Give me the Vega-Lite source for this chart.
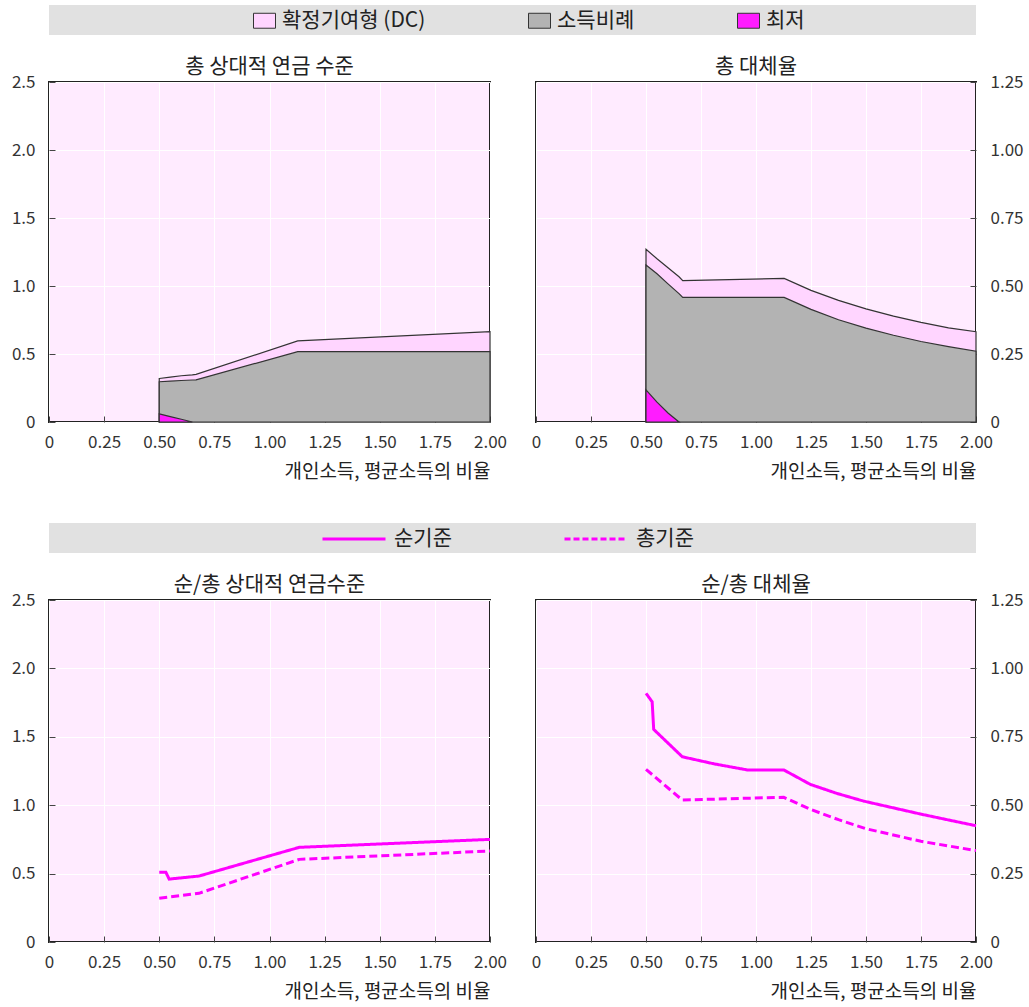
{
  "$schema": "https://vega.github.io/schema/vega-lite/v6.json",
  "padding": {"left": 5, "top": 5, "right": 5, "bottom": 5},
  "background": "#ffffff",
  "datasets": {
    "tl": [
      {"x": 0.5, "total": 0.32, "gray": 0.296, "min": 0.06},
      {"x": 0.55, "total": 0.33, "gray": 0.3, "min": 0.04},
      {"x": 0.6, "total": 0.34, "gray": 0.305, "min": 0.02},
      {"x": 0.65, "total": 0.347, "gray": 0.309, "min": 0},
      {"x": 0.667, "total": 0.35, "gray": 0.31},
      {"x": 1.128, "total": 0.596, "gray": 0.517},
      {"x": 2.0, "total": 0.664, "gray": 0.517}
    ],
    "tr": [
      {"x": 0.5, "total": 0.635, "gray": 0.577, "min": 0.118},
      {"x": 0.55, "total": 0.6, "gray": 0.545, "min": 0.073},
      {"x": 0.6, "total": 0.567, "gray": 0.508, "min": 0.033},
      {"x": 0.65, "total": 0.534, "gray": 0.472, "min": 0},
      {"x": 0.667, "total": 0.52, "gray": 0.458},
      {"x": 1.128, "total": 0.528, "gray": 0.458},
      {"x": 1.25, "total": 0.484, "gray": 0.414},
      {"x": 1.375, "total": 0.447, "gray": 0.376},
      {"x": 1.5, "total": 0.416, "gray": 0.345},
      {"x": 1.625, "total": 0.389, "gray": 0.319},
      {"x": 1.75, "total": 0.366, "gray": 0.296},
      {"x": 1.875, "total": 0.346, "gray": 0.277},
      {"x": 2.0, "total": 0.332, "gray": 0.26}
    ],
    "bl": [
      {"x": 0.5, "basis": "순기준", "value": 0.51},
      {"x": 0.53, "basis": "순기준", "value": 0.51},
      {"x": 0.545, "basis": "순기준", "value": 0.46},
      {"x": 0.68, "basis": "순기준", "value": 0.482},
      {"x": 1.135, "basis": "순기준", "value": 0.692},
      {"x": 2.0, "basis": "순기준", "value": 0.75},
      {"x": 0.5, "basis": "총기준", "value": 0.32},
      {"x": 0.68, "basis": "총기준", "value": 0.356},
      {"x": 1.135, "basis": "총기준", "value": 0.604},
      {"x": 2.0, "basis": "총기준", "value": 0.665}
    ],
    "br": [
      {"x": 0.5, "basis": "순기준", "value": 0.909},
      {"x": 0.528, "basis": "순기준", "value": 0.878},
      {"x": 0.535, "basis": "순기준", "value": 0.777},
      {"x": 0.665, "basis": "순기준", "value": 0.677},
      {"x": 0.81, "basis": "순기준", "value": 0.651},
      {"x": 0.96, "basis": "순기준", "value": 0.629},
      {"x": 1.126, "basis": "순기준", "value": 0.629},
      {"x": 1.247, "basis": "순기준", "value": 0.576},
      {"x": 1.368, "basis": "순기준", "value": 0.543},
      {"x": 1.489, "basis": "순기준", "value": 0.515},
      {"x": 1.746, "basis": "순기준", "value": 0.468},
      {"x": 1.875, "basis": "순기준", "value": 0.446},
      {"x": 2.0, "basis": "순기준", "value": 0.425},
      {"x": 0.5, "basis": "총기준", "value": 0.631},
      {"x": 0.665, "basis": "총기준", "value": 0.519},
      {"x": 1.126, "basis": "총기준", "value": 0.529},
      {"x": 1.25, "basis": "총기준", "value": 0.484},
      {"x": 1.375, "basis": "총기준", "value": 0.447},
      {"x": 1.5, "basis": "총기준", "value": 0.414},
      {"x": 1.75, "basis": "총기준", "value": 0.368},
      {"x": 2.0, "basis": "총기준", "value": 0.334}
    ]
  },
  "spacing": 41,
  "resolve": {"scale": {"x": "independent", "y": "independent", "color": "independent", "strokeDash": "independent"}, "legend": {"color": "independent", "strokeDash": "independent"}},
  "vconcat": [
    {
      "spacing": 20,
      "resolve": {"scale": {"x": "independent", "y": "independent", "color": "independent", "strokeDash": "independent"}, "legend": {"color": "independent", "strokeDash": "independent"}},
      "vconcat": [
        {
          "width": 927,
          "height": 30,
          "view": {"fill": "#e1e1e1", "stroke": null},
          "data": {"values": [{"item": "확정기여형 (DC)"}, {"item": "소득비례"}, {"item": "최저"}]},
          "mark": {"type": "point", "filled": true, "opacity": 0},
          "encoding": {
            "y": {"datum": 0.5, "type": "quantitative", "scale": {"domain": [0, 1]},
              "axis": {"values": [0.5], "labelExpr": "'2.5'", "labelOpacity": 0, "ticks": false, "grid": false, "title": null}},
            "color": {
              "field": "item",
              "type": "nominal",
              "scale": {"domain": ["확정기여형 (DC)", "소득비례", "최저"], "range": ["#ffd5ff", "#b3b3b3", "#ff1cff"]},
              "legend": {
                "orient": "none",
                "legendX": 204,
                "legendY": 4,
                "direction": "horizontal",
                "title": null,
                "symbolType": "M-1,-0.68H1V0.68H-1Z",
                "symbolSize": 484,
                "symbolOpacity": 1,
                "symbolStrokeColor": "#333333",
                "symbolStrokeWidth": 1,
                "labelFontSize": 21,
                "labelColor": "#222222",
                "labelOffset": 6,
                "columnPadding": 100,
                "padding": 0
              }
            }
          }
        },
        {
          "bounds": "flush",
          "spacing": 46,
          "resolve": {"scale": {"x": "independent", "y": "independent"}},
          "hconcat": [
            {
              "width": 441,
              "height": 340,
              "title": {"text": "총 상대적 연금 수준"},
              "view": {"fill": "#ffebff", "stroke": "#222222", "strokeWidth": 2},
              "data": {"name": "tl"},
              "encoding": {
                "x": {
                  "field": "x", "type": "quantitative",
                  "scale": {"domain": [0, 2], "nice": false},
                  "axis": {"values": [0, 0.25, 0.5, 0.75, 1, 1.25, 1.5, 1.75, 2], "labelExpr": "datum.value === 0 ? '0' : format(datum.value, '.2f')", "title": "개인소득, 평균소득의 비율"}
                }
              },
              "layer": [
                {"mark": {"type": "area", "fill": "#ffd5ff", "stroke": "#333333", "strokeWidth": 1.2},
                 "encoding": {"y": {"field": "total", "type": "quantitative", "title": null, "scale": {"domain": [0, 2.5], "nice": false},
                   "axis": {"values": [0, 0.5, 1, 1.5, 2, 2.5], "labelExpr": "datum.value === 0 ? '0' : format(datum.value, '.1f')"}}}},
                {"mark": {"type": "area", "fill": "#b3b3b3", "stroke": "#333333", "strokeWidth": 1.2},
                 "encoding": {"y": {"field": "gray", "type": "quantitative", "title": null,
                   "axis": {"values": [0, 0.5, 1, 1.5, 2, 2.5], "labelExpr": "datum.value === 0 ? '0' : format(datum.value, '.1f')"}}}},
                {"mark": {"type": "area", "fill": "#ff1cff", "stroke": "#333333", "strokeWidth": 1.2},
                 "encoding": {"y": {"field": "min", "type": "quantitative", "title": null,
                   "axis": {"values": [0, 0.5, 1, 1.5, 2, 2.5], "labelExpr": "datum.value === 0 ? '0' : format(datum.value, '.1f')"}}}}
              ]
            },
            {
              "width": 440,
              "height": 340,
              "title": {"text": "총 대체율"},
              "view": {"fill": "#ffebff", "stroke": "#222222", "strokeWidth": 2},
              "data": {"name": "tr"},
              "encoding": {
                "x": {
                  "field": "x", "type": "quantitative",
                  "scale": {"domain": [0, 2], "nice": false},
                  "axis": {"values": [0, 0.25, 0.5, 0.75, 1, 1.25, 1.5, 1.75, 2], "labelExpr": "datum.value === 0 ? '0' : format(datum.value, '.2f')", "title": "개인소득, 평균소득의 비율"}
                }
              },
              "layer": [
                {"mark": {"type": "area", "fill": "#ffd5ff", "stroke": "#333333", "strokeWidth": 1.2},
                 "encoding": {"y": {"field": "total", "type": "quantitative", "title": null, "scale": {"domain": [0, 1.25], "nice": false},
                   "axis": {"orient": "right", "values": [0, 0.25, 0.5, 0.75, 1, 1.25], "labelExpr": "datum.value === 0 ? '0' : format(datum.value, '.2f')"}}}},
                {"mark": {"type": "area", "fill": "#b3b3b3", "stroke": "#333333", "strokeWidth": 1.2},
                 "encoding": {"y": {"field": "gray", "type": "quantitative", "title": null,
                   "axis": {"orient": "right", "values": [0, 0.25, 0.5, 0.75, 1, 1.25], "labelExpr": "datum.value === 0 ? '0' : format(datum.value, '.2f')"}}}},
                {"mark": {"type": "area", "fill": "#ff1cff", "stroke": "#333333", "strokeWidth": 1.2},
                 "encoding": {"y": {"field": "min", "type": "quantitative", "title": null,
                   "axis": {"orient": "right", "values": [0, 0.25, 0.5, 0.75, 1, 1.25], "labelExpr": "datum.value === 0 ? '0' : format(datum.value, '.2f')"}}}}
              ]
            }
          ]
        }
      ]
    },
    {
      "spacing": 20,
      "resolve": {"scale": {"x": "independent", "y": "independent", "color": "independent", "strokeDash": "independent"}, "legend": {"color": "independent", "strokeDash": "independent"}},
      "vconcat": [
        {
          "width": 927,
          "height": 30,
          "view": {"fill": "#e1e1e1", "stroke": null},
          "data": {"values": [{"basis": "순기준"}, {"basis": "총기준"}]},
          "mark": {"type": "point", "color": "#ff00ff", "opacity": 0},
          "encoding": {
            "y": {"datum": 0.5, "type": "quantitative", "scale": {"domain": [0, 1]},
              "axis": {"values": [0.5], "labelExpr": "'2.5'", "labelOpacity": 0, "ticks": false, "grid": false, "title": null}},
            "strokeDash": {
              "field": "basis",
              "type": "nominal",
              "scale": {"domain": ["순기준", "총기준"], "range": [[1, 0], [6, 3]]},
              "legend": {
                "orient": "none",
                "legendX": 293,
                "legendY": 4,
                "direction": "horizontal",
                "title": null,
                "symbolType": "M-3,0H3",
                "symbolSize": 441,
                "symbolOpacity": 1,
                "symbolStrokeColor": "#ff00ff",
                "symbolStrokeWidth": 3,
                "labelFontSize": 21,
                "labelColor": "#222222",
                "labelOffset": 28,
                "columnPadding": 106,
                "padding": 0
              }
            }
          }
        },
        {
          "bounds": "flush",
          "spacing": 46,
          "resolve": {"scale": {"x": "independent", "y": "independent", "strokeDash": "independent"}},
          "hconcat": [
            {
              "width": 441,
              "height": 342,
              "title": {"text": "순/총 상대적 연금수준"},
              "view": {"fill": "#ffebff", "stroke": "#222222", "strokeWidth": 2},
              "data": {"name": "bl"},
              "mark": {"type": "line", "color": "#ff00ff", "strokeWidth": 3},
              "encoding": {
                "x": {
                  "field": "x", "type": "quantitative",
                  "scale": {"domain": [0, 2], "nice": false},
                  "axis": {"values": [0, 0.25, 0.5, 0.75, 1, 1.25, 1.5, 1.75, 2], "labelExpr": "datum.value === 0 ? '0' : format(datum.value, '.2f')", "title": "개인소득, 평균소득의 비율"}
                },
                "y": {"field": "value", "type": "quantitative", "title": null, "scale": {"domain": [0, 2.5], "nice": false},
                  "axis": {"values": [0, 0.5, 1, 1.5, 2, 2.5], "labelExpr": "datum.value === 0 ? '0' : format(datum.value, '.1f')"}},
                "strokeDash": {"field": "basis", "type": "nominal", "scale": {"domain": ["순기준", "총기준"], "range": [[1, 0], [8, 4]]}, "legend": null}
              }
            },
            {
              "width": 440,
              "height": 342,
              "title": {"text": "순/총 대체율"},
              "view": {"fill": "#ffebff", "stroke": "#222222", "strokeWidth": 2},
              "data": {"name": "br"},
              "mark": {"type": "line", "color": "#ff00ff", "strokeWidth": 3},
              "encoding": {
                "x": {
                  "field": "x", "type": "quantitative",
                  "scale": {"domain": [0, 2], "nice": false},
                  "axis": {"values": [0, 0.25, 0.5, 0.75, 1, 1.25, 1.5, 1.75, 2], "labelExpr": "datum.value === 0 ? '0' : format(datum.value, '.2f')", "title": "개인소득, 평균소득의 비율"}
                },
                "y": {"field": "value", "type": "quantitative", "title": null, "scale": {"domain": [0, 1.25], "nice": false},
                  "axis": {"orient": "right", "values": [0, 0.25, 0.5, 0.75, 1, 1.25], "labelExpr": "datum.value === 0 ? '0' : format(datum.value, '.2f')"}},
                "strokeDash": {"field": "basis", "type": "nominal", "scale": {"domain": ["순기준", "총기준"], "range": [[1, 0], [8, 4]]}, "legend": null}
              }
            }
          ]
        }
      ]
    }
  ],
  "config": {
    "font": "Noto Sans CJK KR",
    "view": {"stroke": null},
    "axis": {
      "labelFont": "Noto Sans CJK KR",
      "labelFontSize": 17,
      "labelColor": "#333333",
      "titleFont": "Noto Sans CJK KR",
      "titleFontSize": 19,
      "titleFontWeight": "normal",
      "titleColor": "#222222",
      "grid": true,
      "gridColor": "#ffffff",
      "gridWidth": 1,
      "domain": false,
      "tickColor": "#444444",
      "tickSize": -6,
      "labelFlush": false,
      "titlePadding": 12
    },
    "axisX": {"titleAnchor": "end", "labelPadding": 18},
    "axisY": {"labelPadding": 20},
    "title": {"font": "Noto Sans CJK KR", "fontSize": 21, "fontWeight": "normal", "color": "#222222", "offset": -4},
    "legend": {"labelFont": "Noto Sans CJK KR"}
  }
}
